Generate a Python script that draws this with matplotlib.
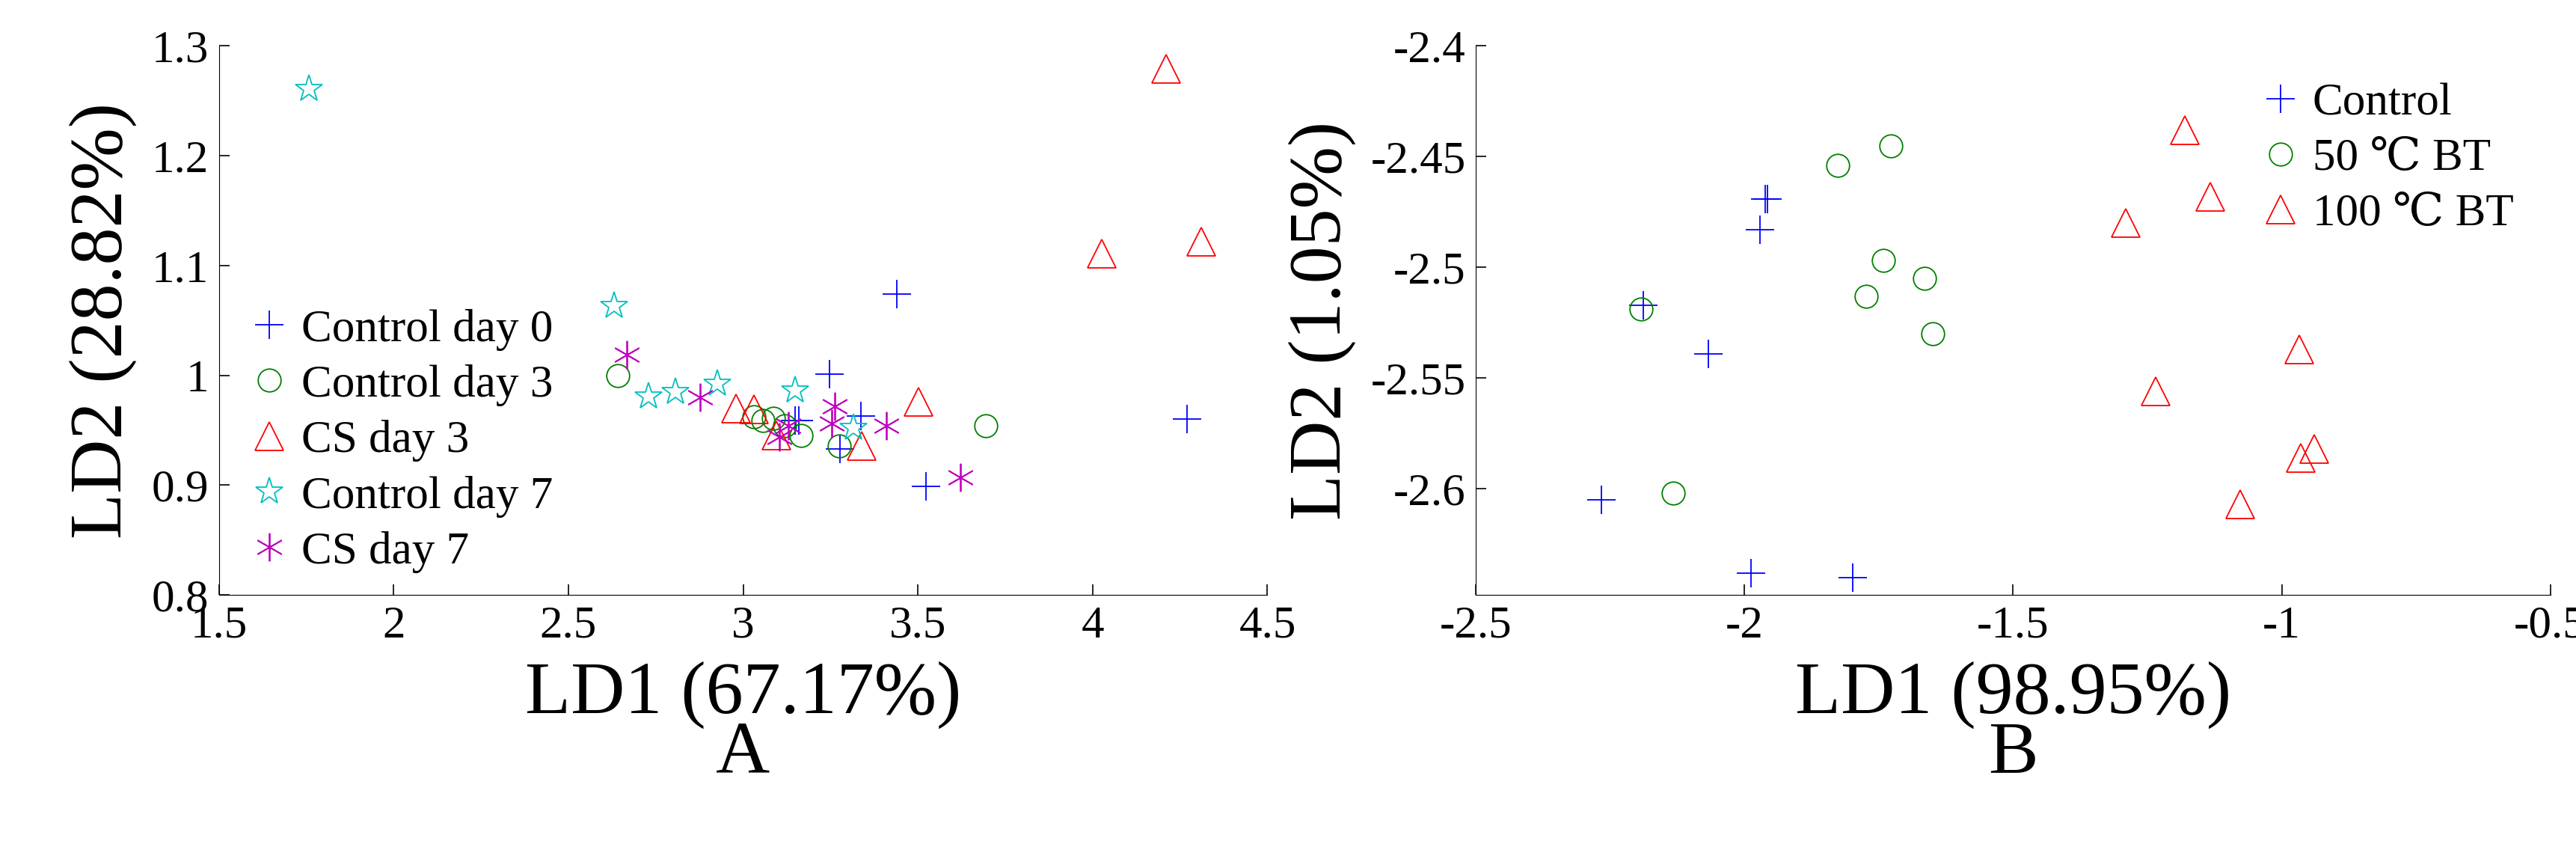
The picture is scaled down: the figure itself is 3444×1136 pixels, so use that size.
import matplotlib
matplotlib.use('Agg')
import matplotlib.pyplot as plt

plt.rcParams['font.family'] = ['Liberation Serif', 'DejaVu Serif']

# panel A data
c0_x = [3.44, 3.247, 3.336, 3.149, 3.278, 3.523, 4.27, 3.16]
c0_y = [1.074, 1.001, 0.963, 0.959, 0.933, 0.899, 0.960, 0.959]
c3_x = [2.641, 3.031, 3.056, 3.087, 3.118, 3.166, 3.274, 3.695]
c3_y = [1.0, 0.962, 0.959, 0.961, 0.954, 0.945, 0.936, 0.954]
cs3_x = [4.21, 4.027, 4.311, 2.979, 3.031, 3.095, 3.34, 3.502]
cs3_y = [1.279, 1.111, 1.122, 0.970, 0.969, 0.945, 0.936, 0.976]
c7_x = [1.757, 2.631, 2.73, 2.807, 2.925, 3.149, 3.315]
c7_y = [1.261, 1.063, 0.981, 0.985, 0.992, 0.986, 0.952]
cs7_x = [2.668, 2.876, 3.263, 3.253, 3.104, 3.409, 3.622, 3.129]
cs7_y = [1.019, 0.98, 0.972, 0.956, 0.944, 0.954, 0.907, 0.954]

# panel B data
ctl_x = [-2.266, -2.189, -2.068, -1.972, -1.962, -1.957, -1.988, -1.798]
ctl_y = [-2.605, -2.517, -2.539, -2.483, -2.469, -2.469, -2.638, -2.640]
bt50_x = [-2.193, -2.133, -1.827, -1.728, -1.741, -1.774, -1.665, -1.65]
bt50_y = [-2.519, -2.602, -2.454, -2.445, -2.497, -2.513, -2.505, -2.530]
bt100_x = [-1.181, -1.133, -1.29, -0.968, -1.235, -0.965, -0.94, -1.078]
bt100_y = [-2.438, -2.468, -2.48, -2.537, -2.556, -2.586, -2.582, -2.607]

fig = plt.figure(figsize=(34.44, 11.36), dpi=100)
axA = fig.add_axes([0.085, 0.30, 0.407, 0.646])
axB = fig.add_axes([0.573, 0.30, 0.417, 0.646])

ms = 27
kw = dict(linestyle='none', markersize=ms, markerfacecolor='none', markeredgewidth=1.3)
okw = {**kw, 'markersize': 22}
axA.plot(c0_x, c0_y, marker='+', color='b', label='Control day 0', **kw)
axA.plot(c3_x, c3_y, marker='o', color='g', label='Control day 3', **okw)
axA.plot(cs3_x, cs3_y, marker='^', color='r', label='CS day 3', **kw)
axA.plot(c7_x, c7_y, marker='*', color='c', label='Control day 7', **kw)
axA.plot(cs7_x, cs7_y, marker=(6, 2, 0), color='m', label='CS day 7', **kw)
axA.set_xlim(1.5, 4.5)
axA.set_ylim(0.8, 1.3)
axA.set_xticks([1.5, 2, 2.5, 3, 3.5, 4, 4.5])
axA.set_xticklabels(['1.5', '2', '2.5', '3', '3.5', '4', '4.5'])
axA.set_yticks([0.8, 0.9, 1.0, 1.1, 1.2, 1.3])
axA.set_yticklabels(['0.8', '0.9', '1', '1.1', '1.2', '1.3'])
axA.set_xlabel('LD1 (67.17%)', fontsize=72, labelpad=14)
axA.set_ylabel('LD2 (28.82%)', fontsize=72, labelpad=14)
axA.legend(loc='lower left', bbox_to_anchor=(0.0, -0.01), frameon=False, fontsize=44,
           handletextpad=0.2, labelspacing=0.3, handlelength=1.0, borderaxespad=0.2)
axA.text(0.5, -0.29, 'A', transform=axA.transAxes, ha='center', va='center', fontsize=72)

axB.plot(ctl_x, ctl_y, marker='+', color='b', label='Control', **kw)
axB.plot(bt50_x, bt50_y, marker='o', color='g', label='50 ℃ BT', **okw)
axB.plot(bt100_x, bt100_y, marker='^', color='r', label='100 ℃ BT', **kw)
axB.set_xlim(-2.5, -0.5)
axB.set_ylim(-2.648, -2.4)
axB.set_xticks([-2.5, -2, -1.5, -1, -0.5])
axB.set_xticklabels(['-2.5', '-2', '-1.5', '-1', '-0.5'])
axB.set_yticks([-2.6, -2.55, -2.5, -2.45, -2.4])
axB.set_yticklabels(['-2.6', '-2.55', '-2.5', '-2.45', '-2.4'])
axB.set_xlabel('LD1 (98.95%)', fontsize=72, labelpad=14)
axB.set_ylabel('LD2 (1.05%)', fontsize=72, labelpad=14)
axB.legend(loc='upper right', frameon=False, fontsize=44, borderaxespad=0.4,
           handletextpad=0.2, labelspacing=0.3, handlelength=1.0)
axB.text(0.5, -0.29, 'B', transform=axB.transAxes, ha='center', va='center', fontsize=72)

for ax in (axA, axB):
    ax.spines['top'].set_visible(False)
    ax.spines['right'].set_visible(False)
    ax.tick_params(direction='in', labelsize=44, length=10, width=1.2, pad=10)

fig.savefig('out.png', dpi=100)
